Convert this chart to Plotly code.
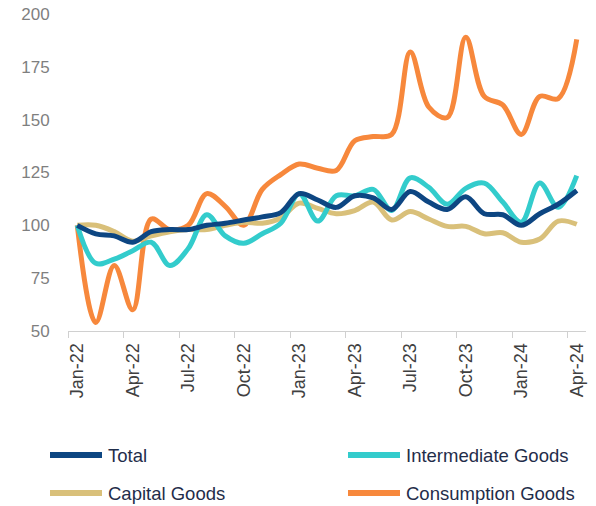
import plotly.graph_objects as go

# Monthly index, Jan-22 = 100
months = [
    "Jan-22", "Feb-22", "Mar-22", "Apr-22", "May-22", "Jun-22", "Jul-22",
    "Aug-22", "Sep-22", "Oct-22", "Nov-22", "Dec-22", "Jan-23", "Feb-23",
    "Mar-23", "Apr-23", "May-23", "Jun-23", "Jul-23", "Aug-23", "Sep-23",
    "Oct-23", "Nov-23", "Dec-23", "Jan-24", "Feb-24", "Mar-24", "Apr-24",
]

total = [100, 96, 95, 92, 97, 98, 98, 100, 101, 102.5, 104, 106, 115, 112,
         108.5, 114, 113, 107.5, 116, 111, 107.5, 113.5, 105.5, 105, 100,
         105.5, 110, 116.5]
intermediate = [100, 82, 84, 88, 92, 81, 89, 105, 95, 91.5, 96, 101, 115, 102,
                114, 114, 117, 107, 122.5, 118, 110, 117.5, 120, 111, 101.5,
                120, 108.5, 123.5]
capital = [100, 100, 97, 92.5, 95, 97, 98, 98, 100, 101.5, 101, 103.5, 110.5,
           108, 105.5, 107, 111, 102.5, 106.5, 103, 99.5, 99.5, 96, 96.5, 92,
           93.5, 102, 100.5]
consumption = [100, 54, 81, 60, 103, 98, 100, 115, 109, 100, 117, 124, 129,
               127, 126, 140, 142, 143, 182, 156, 151, 189, 161, 157, 143, 161,
               160, 188]

y_ticks = [50, 75, 100, 125, 150, 175, 200]

series = [
    ("Total", total, "#0d4682"),
    ("Intermediate Goods", intermediate, "#33cccc"),
    ("Capital Goods", capital, "#d9c07a"),
    ("Consumption Goods", consumption, "#f7883c"),
]

FONT = "Liberation Sans, Arial, sans-serif"
W, H = 596, 506
ML, MR, MT, MB = 68, 10, 14, 175
PW, PH = W - ML - MR, H - MT - MB

fig = go.Figure()
# draw order: consumption underneath, then the others
for name, vals, color in reversed(series):
    fig.add_trace(go.Scatter(
        x=months, y=vals, name=name, mode="lines",
        line=dict(color=color, width=5, shape="spline", smoothing=1.0),
        showlegend=False,
    ))

# two-column key below the chart (pixel layout converted to paper units)
def px_x(px):
    return (px - ML) / PW

def px_y(py):
    return (H - MB - py) / PH

key_cols = [48, 346]
key_rows = [455, 493]
shapes, annotations = [], []
for i, (name, _, color) in enumerate(series):
    cx = key_cols[i % 2]
    cy = key_rows[i // 2]
    shapes.append(dict(
        type="line", xref="paper", yref="paper",
        x0=px_x(cx + 2), x1=px_x(cx + 54), y0=px_y(cy), y1=px_y(cy),
        line=dict(color=color, width=6),
    ))
    annotations.append(dict(
        xref="paper", yref="paper", x=px_x(cx + 58), y=px_y(cy),
        xanchor="left", yanchor="middle", showarrow=False, text=name,
        font=dict(family=FONT, size=18.5, color="#1f2d4a"),
    ))

fig.update_layout(
    width=W, height=H,
    margin=dict(l=ML, r=MR, t=MT, b=MB, autoexpand=False),
    plot_bgcolor="white", paper_bgcolor="white",
    showlegend=False,
    shapes=shapes, annotations=annotations,
    xaxis=dict(
        type="category", range=[-0.5, 27.5],
        tickmode="linear", tick0=0, dtick=3, tickson="boundaries",
        tickangle=-90, ticks="outside", ticklen=6, tickcolor="#d0d0d0",
        ticklabelstandoff=4,
        showline=True, linecolor="#d0d0d0", linewidth=1,
        showgrid=False, zeroline=False,
        tickfont=dict(family=FONT, size=18, color="#404040"),
    ),
    yaxis=dict(
        range=[50, 200], tickvals=y_ticks,
        showgrid=False, zeroline=False, showline=False,
        ticks="outside", ticklen=14, tickcolor="rgba(0,0,0,0)",
        tickfont=dict(family=FONT, size=17, color="#7f7f7f"),
    ),
)

fig.write_html("out.html")
